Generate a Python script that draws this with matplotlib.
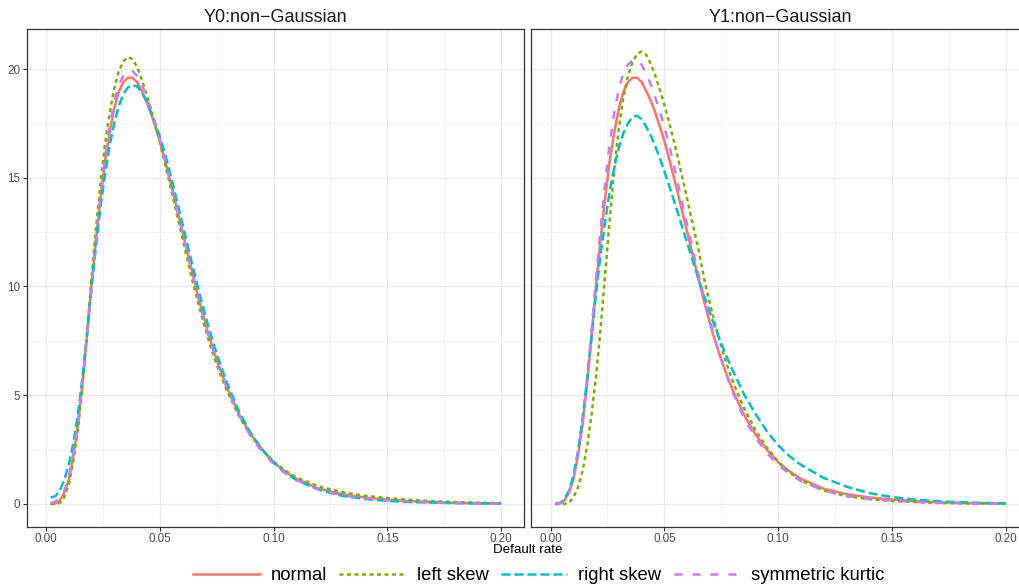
import matplotlib
matplotlib.use("Agg")
import matplotlib.pyplot as plt
from matplotlib.ticker import FixedLocator
from matplotlib.lines import Line2D

plt.rcParams['font.family'] = ['Liberation Sans', 'DejaVu Sans']

# ---------------- data ----------------
default_rate = [0.002, 0.004, 0.006, 0.008, 0.010, 0.012, 0.014, 0.016, 0.018, 0.020,
                0.022, 0.024, 0.026, 0.028, 0.030, 0.032, 0.034, 0.036, 0.038, 0.040,
                0.042, 0.044, 0.046, 0.048, 0.050, 0.053, 0.056, 0.059, 0.062, 0.065,
                0.068, 0.071, 0.074, 0.077, 0.080, 0.085, 0.090, 0.095, 0.100, 0.105,
                0.110, 0.120, 0.130, 0.140, 0.150, 0.160, 0.170, 0.180, 0.190, 0.200]

series_labels = ["normal", "left skew", "right skew", "symmetric kurtic"]
panel_titles = ["Y0:non\u2212Gaussian", "Y1:non\u2212Gaussian"]
x_ticks = [0.00, 0.05, 0.10, 0.15, 0.20]
x_tick_labels = ["0.00", "0.05", "0.10", "0.15", "0.20"]
y_ticks = [0, 5, 10, 15, 20]

# Y0 panel
y0_normal = [0.0, 0.02, 0.15, 0.5, 1.1, 2.2, 3.6, 5.5, 7.7, 10.1,
             12.2, 14.1, 15.8, 17.1, 18.2, 18.95, 19.4, 19.6, 19.6, 19.4,
             19.0, 18.55, 18.0, 17.35, 16.7, 15.5, 14.25, 12.95, 11.65, 10.35,
             9.1, 7.95, 6.95, 6.05, 5.25, 4.1, 3.2, 2.5, 1.92, 1.5,
             1.16, 0.7, 0.45, 0.3, 0.2, 0.13, 0.08, 0.05, 0.03, 0.02]
y0_left_skew = [0.0, 0.0, 0.05, 0.3, 0.9, 1.95, 3.4, 5.4, 7.8, 10.4,
                12.7, 14.8, 16.6, 18.0, 19.1, 19.9, 20.35, 20.55, 20.45, 20.1,
                19.55, 18.9, 18.2, 17.45, 16.65, 15.35, 14.0, 12.65, 11.3, 10.0,
                8.8, 7.7, 6.7, 5.85, 5.1, 4.0, 3.15, 2.5, 1.95, 1.55,
                1.22, 0.8, 0.55, 0.38, 0.27, 0.19, 0.13, 0.09, 0.06, 0.04]
y0_right_skew = [0.3, 0.35, 0.6, 1.1, 1.8, 2.8, 4.1, 5.8, 7.8, 9.9,
                 11.9, 13.7, 15.2, 16.5, 17.5, 18.3, 18.85, 19.15, 19.25, 19.2,
                 18.95, 18.55, 18.05, 17.5, 16.9, 15.85, 14.6, 13.3, 12.0, 10.7,
                 9.45, 8.3, 7.25, 6.3, 5.45, 4.2, 3.25, 2.5, 1.9, 1.45,
                 1.1, 0.65, 0.38, 0.23, 0.14, 0.09, 0.06, 0.04, 0.03, 0.02]
y0_sym_kurtic = [0.05, 0.1, 0.25, 0.6, 1.2, 2.3, 3.7, 5.6, 7.7, 10.0,
                 12.2, 14.2, 16.0, 17.4, 18.5, 19.25, 19.7, 19.9, 19.9, 19.7,
                 19.3, 18.8, 18.2, 17.5, 16.8, 15.55, 14.25, 12.9, 11.6, 10.3,
                 9.05, 7.9, 6.9, 6.0, 5.2, 4.05, 3.1, 2.4, 1.85, 1.42,
                 1.1, 0.65, 0.4, 0.26, 0.17, 0.11, 0.07, 0.05, 0.03, 0.02]

# Y1 panel
y1_normal = [0.0, 0.02, 0.15, 0.5, 1.1, 2.2, 3.6, 5.5, 7.7, 10.1,
             12.2, 14.1, 15.8, 17.1, 18.2, 18.95, 19.4, 19.6, 19.6, 19.4,
             19.0, 18.55, 18.0, 17.35, 16.7, 15.5, 14.25, 12.95, 11.65, 10.35,
             9.1, 7.95, 6.95, 6.05, 5.25, 4.1, 3.2, 2.5, 1.92, 1.5,
             1.16, 0.7, 0.45, 0.3, 0.2, 0.13, 0.08, 0.05, 0.03, 0.02]
y1_left_skew = [0.0, 0.0, 0.0, 0.05, 0.3, 0.75, 1.5, 2.6, 4.1, 5.9,
                8.1, 10.6, 13.1, 15.4, 17.3, 18.7, 19.7, 20.3, 20.7, 20.8,
                20.65, 20.25, 19.7, 19.05, 18.35, 17.2, 15.9, 14.5, 13.1, 11.7,
                10.1, 8.8, 7.6, 6.55, 5.65, 4.4, 3.4, 2.6, 1.95, 1.45,
                1.08, 0.62, 0.36, 0.22, 0.14, 0.09, 0.05, 0.03, 0.02, 0.01]
y1_right_skew = [0.0, 0.05, 0.2, 0.6, 1.3, 2.4, 3.9, 5.7, 7.7, 9.7,
                 11.5, 13.0, 14.4, 15.5, 16.4, 17.05, 17.5, 17.8, 17.85, 17.7,
                 17.35, 16.95, 16.45, 15.9, 15.3, 14.35, 13.35, 12.35, 11.35, 10.35,
                 9.4, 8.5, 7.65, 6.85, 6.15, 5.05, 4.15, 3.35, 2.7, 2.2,
                 1.8, 1.2, 0.8, 0.5, 0.32, 0.2, 0.13, 0.08, 0.05, 0.03]
y1_sym_kurtic = [0.0, 0.03, 0.15, 0.5, 1.15, 2.3, 3.8, 5.7, 8.0, 10.4,
                 12.7, 14.8, 16.6, 18.0, 19.1, 19.8, 20.2, 20.4, 20.4, 20.2,
                 19.8, 19.3, 18.7, 18.05, 17.35, 16.1, 14.7, 13.3, 11.9, 10.55,
                 9.25, 8.05, 6.95, 6.0, 5.15, 3.95, 3.05, 2.35, 1.8, 1.38,
                 1.05, 0.62, 0.37, 0.23, 0.15, 0.1, 0.06, 0.04, 0.025, 0.015]

panels = [
    [y0_normal, y0_left_skew, y0_right_skew, y0_sym_kurtic],
    [y1_normal, y1_left_skew, y1_right_skew, y1_sym_kurtic],
]

# ---------------- styles ----------------
colors = ["#F8766D", "#7CAE00", "#00BFC4", "#C77CFF"]
LW = 1.8
dash_styles = [None, (1.6, 1.4), (3.6, 1.6), (3.2, 4.0)]

W, H = 1020, 586
fig = plt.figure(figsize=(W / 100, H / 100), dpi=100)
fig.patch.set_facecolor("white")


def add_px_axes(l, t, r, b):
    return fig.add_axes([l / W, 1 - b / H, (r - l) / W, (b - t) / H])


xlim = (-0.00848, 0.2102)
ylim = (-1.04, 21.84)
ax_boxes = [(26.7, 29.0, 524.3, 526.6), (531.3, 29.0, 1028.9, 526.6)]

for i, (box, series) in enumerate(zip(ax_boxes, panels)):
    ax = add_px_axes(*box)
    ax.set_xlim(*xlim)
    ax.set_ylim(*ylim)
    ax.xaxis.set_major_locator(FixedLocator(x_ticks))
    ax.xaxis.set_minor_locator(FixedLocator([0.025, 0.075, 0.125, 0.175]))
    ax.yaxis.set_major_locator(FixedLocator(y_ticks))
    ax.yaxis.set_minor_locator(FixedLocator([2.5, 7.5, 12.5, 17.5]))
    ax.grid(which="major", color="#EBEBEB", linewidth=1.0, zorder=0)
    ax.grid(which="minor", color="#F2F2F2", linewidth=0.6, zorder=0)
    ax.set_axisbelow(True)
    for sp in ax.spines.values():
        sp.set_color("#333333")
        sp.set_linewidth(0.9)
    ax.set_xticklabels(x_tick_labels)
    ax.tick_params(axis="both", which="major", length=3, width=0.8, color="#333333",
                   labelsize=8.4, labelcolor="#4D4D4D", pad=1.5)
    ax.tick_params(axis="both", which="minor", length=0)
    if i == 0:
        ax.set_yticklabels([str(v) for v in y_ticks])
    else:
        ax.tick_params(axis="y", which="major", length=0, labelleft=False)

    for y, c, d in zip(series, colors, dash_styles):
        ln, = ax.plot(default_rate, y, color=c, linewidth=LW, solid_capstyle="butt",
                      dash_capstyle="butt", solid_joinstyle="round", zorder=3)
        if d is not None:
            ln.set_dashes(d)

    cx = (box[0] + box[2]) / 2
    fig.text(cx / W, 1 - 17 / H, panel_titles[i], ha="center", va="center",
             fontsize=13, color="#1A1A1A")

fig.text(528 / W, 1 - 550 / H, "Default rate", ha="center", va="center",
         fontsize=9.6, color="black")

handles = []
for c, d in zip(colors, dash_styles):
    h = Line2D([0], [0], color=c, linewidth=LW)
    if d is not None:
        h.set_dashes(d)
    handles.append(h)
fig.legend(handles, series_labels, loc="center", bbox_to_anchor=(539 / W, 1 - 576 / H),
           ncol=4, frameon=False, fontsize=13.3, handlelength=3.6, handletextpad=0.6,
           columnspacing=0.65, borderaxespad=0, borderpad=0)

fig.savefig("out.png", dpi=100, facecolor="white")
